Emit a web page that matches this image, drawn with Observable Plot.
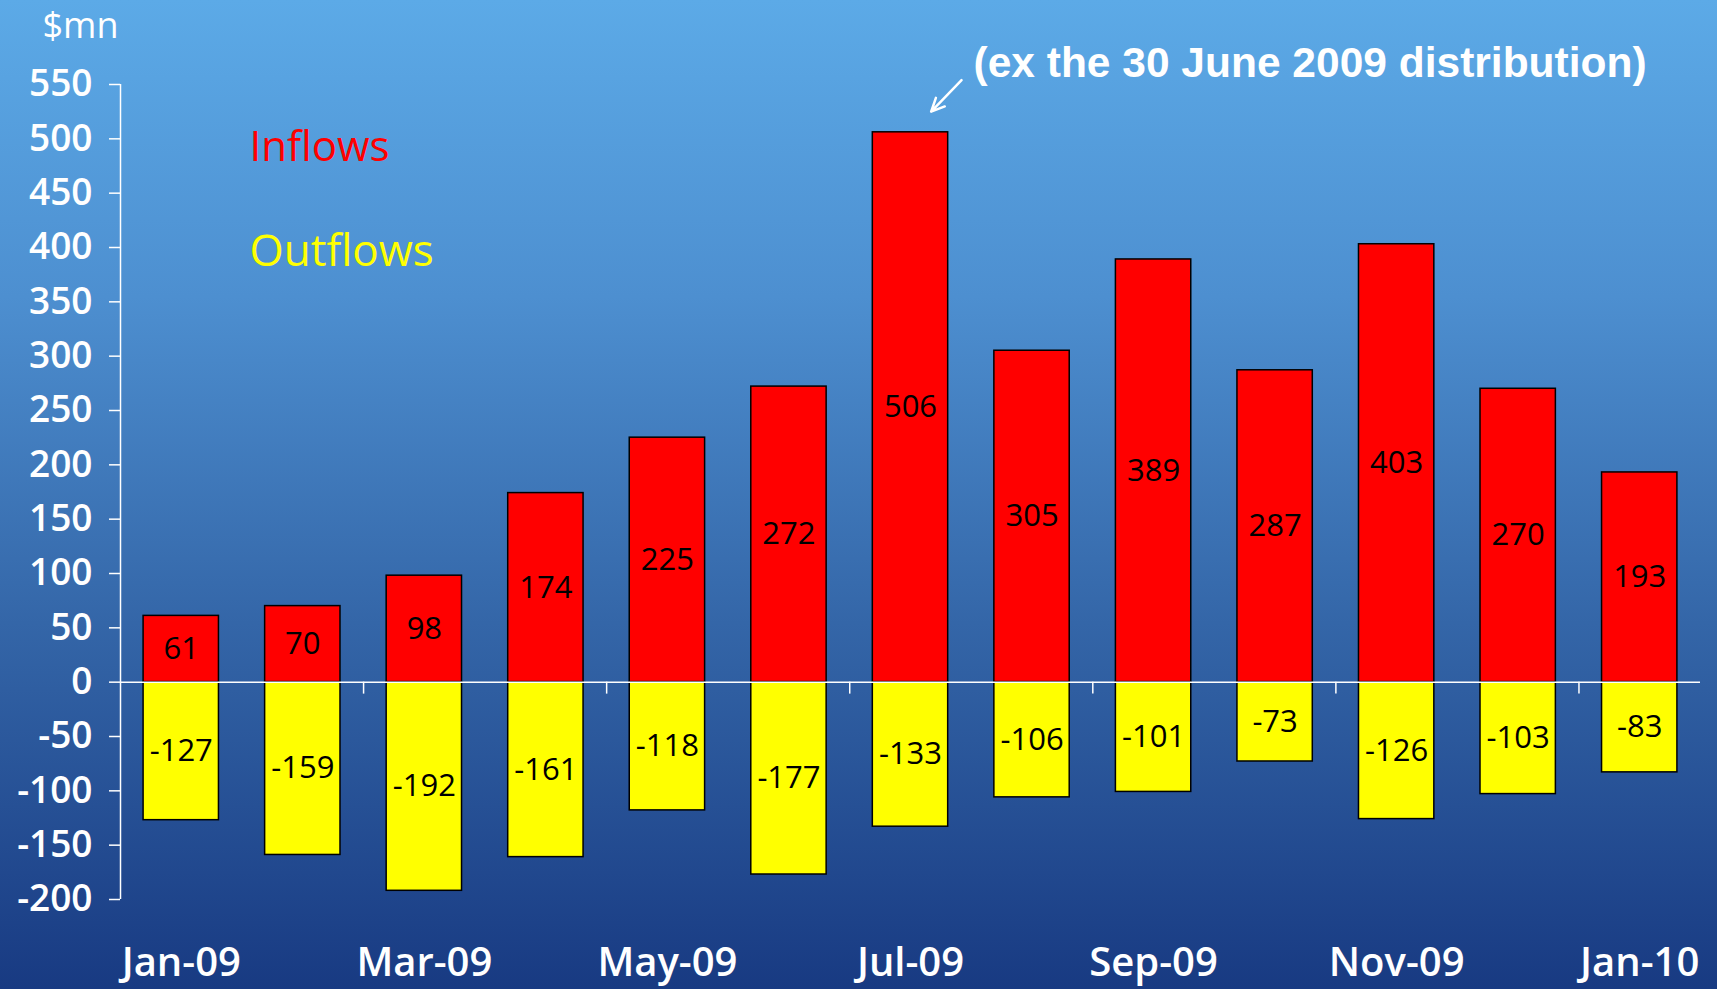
<!DOCTYPE html>
<html>
<head>
<meta charset="utf-8">
<script src="https://cdn.jsdelivr.net/npm/d3@7"></script>
<script src="https://cdn.jsdelivr.net/npm/@observablehq/plot@0.6"></script>
<style>
  html, body { margin: 0; padding: 0; }
  body { width: 1717px; height: 989px; overflow: hidden;
    background: linear-gradient(to bottom, #5caae7 0%, #4d8fd0 30%, #3466a8 63%, #183a82 100%); }
  #chart svg { display: block; }
</style>
</head>
<body>
<div id="chart"></div>
<script>
const months = ["Jan-09","Feb-09","Mar-09","Apr-09","May-09","Jun-09","Jul-09","Aug-09","Sep-09","Oct-09","Nov-09","Dec-09","Jan-10"];
const inflows = [61, 70, 98, 174, 225, 272, 506, 305, 389, 287, 403, 270, 193];
const outflows = [-127, -159, -192, -161, -118, -177, -133, -106, -101, -73, -126, -103, -83];
const yTicks = [-200, -150, -100, -50, 0, 50, 100, 150, 200, 250, 300, 350, 400, 450, 500, 550];
const xLabelIdx = [0, 2, 4, 6, 8, 10, 12];
const xTickMarks = [1.5, 3.5, 5.5, 7.5, 9.5, 11.5];
const unitLabel = "$mn";
const legendItems = [{label: "Inflows", color: "#ff0000"}, {label: "Outflows", color: "#ffff00"}];
const noteText = "(ex the 30 June 2009 distribution)";
const noteArrow = [{x1: 6.42, y1: 554, x2: 6.17, y2: 525}];

const inData = months.map((m, i) => ({i, month: m, value: inflows[i]}));
const outData = months.map((m, i) => ({i, month: m, value: outflows[i]}));
const half = 0.31;

const font = "'Open Sans', sans-serif";

const plot = Plot.plot({
  width: 1717,
  height: 989,
  marginLeft: 120,
  marginRight: 17,
  marginTop: 84,
  marginBottom: 90,
  style: {background: "transparent", color: "white", fontFamily: font, overflow: "visible"},
  x: {type: "linear", domain: [-0.5, 12.5], axis: null},
  y: {domain: [-200, 550], axis: null},
  marks: [
    Plot.rectY(inData, {x1: d => d.i - half, x2: d => d.i + half, y1: 0, y2: "value", fill: "#ff0000", stroke: "black", strokeWidth: 1.5}),
    Plot.rectY(outData, {x1: d => d.i - half, x2: d => d.i + half, y1: 0, y2: "value", fill: "#ffff00", stroke: "black", strokeWidth: 1.5}),
    Plot.text(inData, {x: "i", y: d => d.value / 2, text: d => String(d.value), fill: "black", fontSize: 31, fontFamily: font}),
    Plot.text(outData, {x: "i", y: d => d.value / 2, text: d => String(d.value), fill: "black", fontSize: 31, fontFamily: font}),
    Plot.ruleY([0], {stroke: "white", strokeWidth: 1.5}),
    Plot.ruleX([-0.5], {y1: -200, y2: 550, stroke: "white", strokeWidth: 1.5}),
    Plot.ruleX(xTickMarks, {x: d => d, y1: 0, y2: -11, stroke: "white", strokeWidth: 1.5}),
    Plot.axisY({ticks: yTicks, tickFormat: d => String(d), tickSize: 11, tickPadding: 17, fontSize: 37, fontWeight: 600, fill: "white", stroke: "white", strokeWidth: 1.5, label: null}),
    Plot.axisX({ticks: xLabelIdx, tickFormat: i => months[i], tickSize: 0, tickPadding: 48, fontSize: 40, fontWeight: 600, fill: "white", label: null}),
    Plot.text([unitLabel], {frameAnchor: "top-left", text: d => d, textAnchor: "start", lineAnchor: "bottom", dx: -78, dy: -47, fontSize: 36, fill: "white", fontFamily: font}),
    Plot.text(legendItems.slice(0, 1), {frameAnchor: "top-left", text: "label", fill: "color", textAnchor: "start", lineAnchor: "bottom", dx: 129, dy: 76, fontSize: 42, fontFamily: font}),
    Plot.text(legendItems.slice(1, 2), {frameAnchor: "top-left", text: "label", fill: "color", textAnchor: "start", lineAnchor: "bottom", dx: 129, dy: 181, fontSize: 44, fontFamily: font}),
    Plot.text([noteText], {frameAnchor: "top-left", text: d => d, textAnchor: "start", lineAnchor: "bottom", dx: 853, dy: -8, fontSize: 42.5, fontWeight: "bold", fill: "white", fontFamily: "'Liberation Sans', Arial, sans-serif"}),
    Plot.arrow(noteArrow, {x1: "x1", y1: "y1", x2: "x2", y2: "y2", stroke: "white", strokeWidth: 2.5, headLength: 14, headAngle: 50})
  ]
});
document.getElementById("chart").appendChild(plot);
</script>
</body>
</html>
